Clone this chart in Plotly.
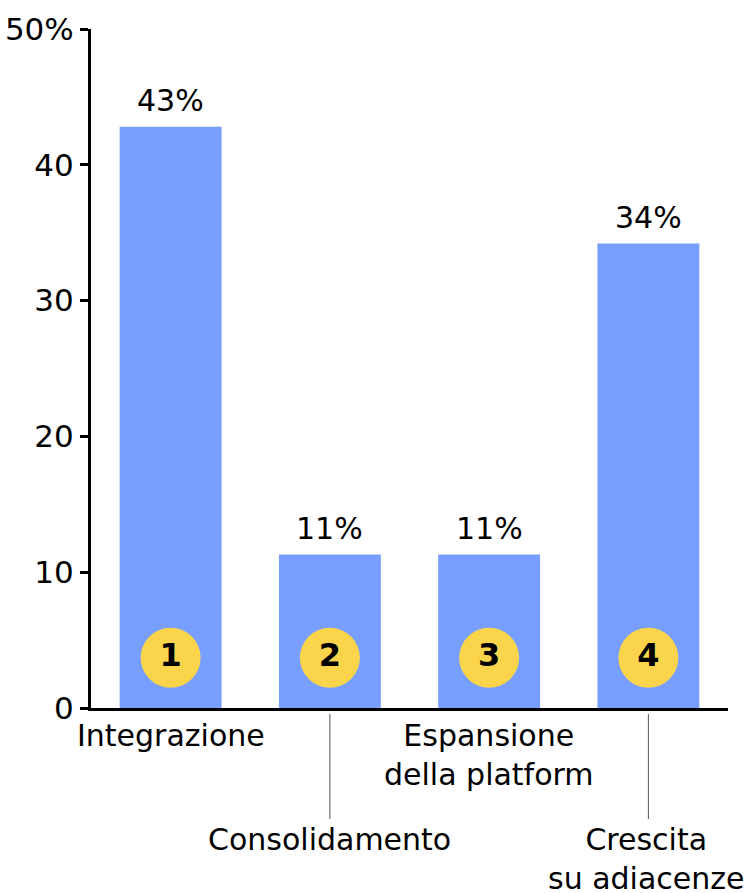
import plotly.graph_objects as go

# Share of deals by strategy type (%)
categories = ["Integrazione", "Consolidamento", "Espansione<br>della platform", "Crescita<br>su adiacenze"]
shares = [42.8, 11.3, 11.3, 34.2]
badges = ["1", "2", "3", "4"]
badge_level = [3.7, 3.7, 3.7, 3.7]
label_row = [0, 1, 0, 1]  # 0 = directly under the axis, 1 = lower row with leader line

y_ticks = [0, 10, 20, 30, 40, 50]
y_ticktext = ["0", "10", "20", "30", "40", "50%"]

FONT = "DejaVu Sans"
BAR_COLOR = "#789FFF"
BADGE_COLOR = "#FAD54B"
FS = 30

x_idx = list(range(len(categories)))

fig = go.Figure()
fig.add_trace(go.Bar(
    x=x_idx, y=shares, width=0.64,
    marker=dict(color=BAR_COLOR, line=dict(width=0)),
    hoverinfo="skip",
))
fig.add_trace(go.Scatter(
    x=x_idx, y=badge_level, mode="markers+text",
    marker=dict(size=60, color=BADGE_COLOR, line=dict(width=0)),
    text=[f"<b>{b}</b>" for b in badges],
    textposition="middle center",
    textfont=dict(family=FONT, size=32, color="black"),
    hoverinfo="skip",
    cliponaxis=False,
))

annotations = []
for i, v in enumerate(shares):
    annotations.append(dict(
        x=i, y=v, xref="x", yref="y", text=f"{v:.0f}%", showarrow=False,
        yanchor="bottom", yshift=7,
        font=dict(family=FONT, size=FS, color="black"),
    ))

plot_h = 679.0
shapes = []
for i, (cat, row) in enumerate(zip(categories, label_row)):
    if row == 0:
        y_top = -(8 / plot_h)
    else:
        y_top = -(112 / plot_h)
        shapes.append(dict(
            type="line", xref="x", yref="paper",
            x0=i, x1=i, y0=-(6 / plot_h), y1=-(111 / plot_h),
            line=dict(color="#555555", width=1),
        ))
    annotations.append(dict(
        x=i, y=y_top, xref="x", yref="paper", text=cat, showarrow=False,
        yanchor="top", align="center", xshift=-2 if i == 3 else 0,
        font=dict(family=FONT, size=FS, color="black"),
    ))

fig.update_layout(
    width=749, height=893,
    margin=dict(l=91, r=21, t=29, b=185),
    plot_bgcolor="white", paper_bgcolor="white",
    showlegend=False,
    bargap=0.36,
    annotations=annotations,
    shapes=shapes,
    xaxis=dict(
        range=[-0.5, 3.5], showticklabels=False, ticks="",
        showline=True, linecolor="black", linewidth=3,
        showgrid=False, zeroline=False, fixedrange=True, automargin=False,
    ),
    yaxis=dict(
        range=[0, 50], tickvals=y_ticks, ticktext=y_ticktext,
        ticks="outside", ticklen=8, tickwidth=3, tickcolor="black",
        showline=True, linecolor="black", linewidth=3,
        showgrid=False, zeroline=False, automargin=False,
        tickfont=dict(family=FONT, size=31, color="black"),
    ),
)

fig.write_html("out.html")
